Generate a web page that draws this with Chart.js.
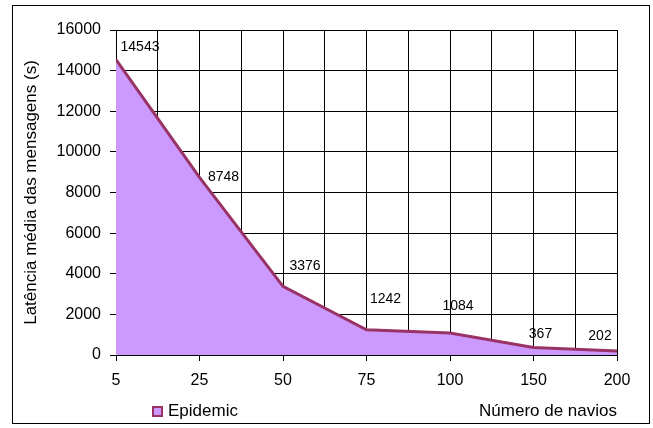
<!DOCTYPE html>
<html>
<head>
<meta charset="utf-8">
<script src="https://cdn.jsdelivr.net/npm/chart.js@4/dist/chart.umd.min.js"></script>
<style>
  html, body { margin: 0; padding: 0; background: #fff; }
  #wrap { width: 653px; height: 428px; }
</style>
</head>
<body>
<div id="wrap"><canvas id="latChart"></canvas></div>
<script>
const categories = ["5", "25", "50", "75", "100", "150", "200"];
const latencia = [14543, 8748, 3376, 1242, 1084, 367, 202];
const yTicks = [0, 2000, 4000, 6000, 8000, 10000, 12000, 14000, 16000];
const seriesName = "Epidemic";

// label offsets (px) relative to each point, as placed in the original
const labelOffsets = [[24, -12], [24, 0], [22, -20], [19, -31], [8, -27], [7, -13], [-17, -15]];

const fontFamily = "'Liberation Sans', Arial, sans-serif";

const extras = {
  id: "extras",
  beforeDraw(chart) {
    const c = chart.ctx;
    c.save();
    c.fillStyle = "#fff";
    c.fillRect(0, 0, chart.width, chart.height);
    c.restore();
  },
  afterDraw(chart) {
    const c = chart.ctx;
    c.save();
    // outer border
    c.strokeStyle = "#000";
    c.lineWidth = 1;
    c.strokeRect(12.5, 5.5, 637, 418);

    // value labels
    const meta = chart.getDatasetMeta(0);
    c.fillStyle = "#000";
    c.font = "14px " + fontFamily;
    c.textAlign = "center";
    c.textBaseline = "middle";
    meta.data.forEach((pt, i) => {
      const off = labelOffsets[i];
      c.fillText(String(latencia[i]), pt.x + off[0], pt.y + off[1]);
    });

    // legend
    c.fillStyle = "#CC99FF";
    c.fillRect(152, 406, 11, 11);
    c.strokeStyle = "#993366";
    c.lineWidth = 2;
    c.strokeRect(153, 407, 9, 9);
    c.fillStyle = "#000";
    c.font = "17px " + fontFamily;
    c.textAlign = "left";
    c.fillText(seriesName, 168, 411);
    c.restore();
  }
};

const ctx = document.getElementById("latChart").getContext("2d");

new Chart(ctx, {
  type: "line",
  data: {
    datasets: [
      {
        label: seriesName,
        data: latencia.map((v, i) => ({ x: i, y: v })),
        backgroundColor: "#CC99FF",
        borderColor: "#993366",
        borderWidth: 3,
        tension: 0,
        fill: "origin",
        pointRadius: 0,
      },
    ],
  },
  options: {
    responsive: true,
    maintainAspectRatio: false,
    animation: false,
    layout: {
      padding: { left: 21, top: 30, right: 36, bottom: 6 },
    },
    plugins: {
      legend: { display: false },
      tooltip: { enabled: false },
    },
    scales: {
      x: {
        type: "linear",
        min: 0,
        max: categories.length - 1,
        afterFit: function (scale) {
          scale.height = 67;
        },
        afterBuildTicks: function (scale) {
          const t = [];
          for (let v = 0; v <= categories.length - 1; v += 0.5) t.push({ value: v });
          scale.ticks = t;
        },
        ticks: {
          autoSkip: false,
          maxRotation: 0,
          padding: 10,
          color: "#000",
          font: { family: fontFamily, size: 16 },
          callback: function (value) {
            return Number.isInteger(value) ? categories[value] : "";
          },
        },
        grid: {
          color: "#000",
          lineWidth: 1,
          tickLength: 6,
          tickColor: function (c) {
            return c.tick && Number.isInteger(c.tick.value) ? "#000" : "rgba(0,0,0,0)";
          },
        },
        border: { color: "#000", width: 1 },
        title: {
          display: true,
          text: "Número de navios",
          align: "end",
          color: "#000",
          font: { family: fontFamily, size: 17 },
          padding: { top: 4, bottom: 0 },
        },
      },
      y: {
        min: 0,
        max: 16000,
        afterFit: function (scale) {
          scale.width = 95;
        },
        afterBuildTicks: function (scale) {
          scale.ticks = yTicks.map((v) => ({ value: v }));
        },
        ticks: {
          padding: 9,
          color: "#000",
          font: { family: fontFamily, size: 16 },
          callback: function (value) {
            return String(value);
          },
        },
        grid: {
          color: "#000",
          lineWidth: 1,
          tickLength: 6,
        },
        border: { color: "#000", width: 1 },
        title: {
          display: true,
          text: "Latência média das mensagens (s)",
          color: "#000",
          font: { family: fontFamily, size: 17 },
          padding: { top: 0, bottom: 4 },
        },
      },
    },
  },
  plugins: [extras],
});
</script>
</body>
</html>
